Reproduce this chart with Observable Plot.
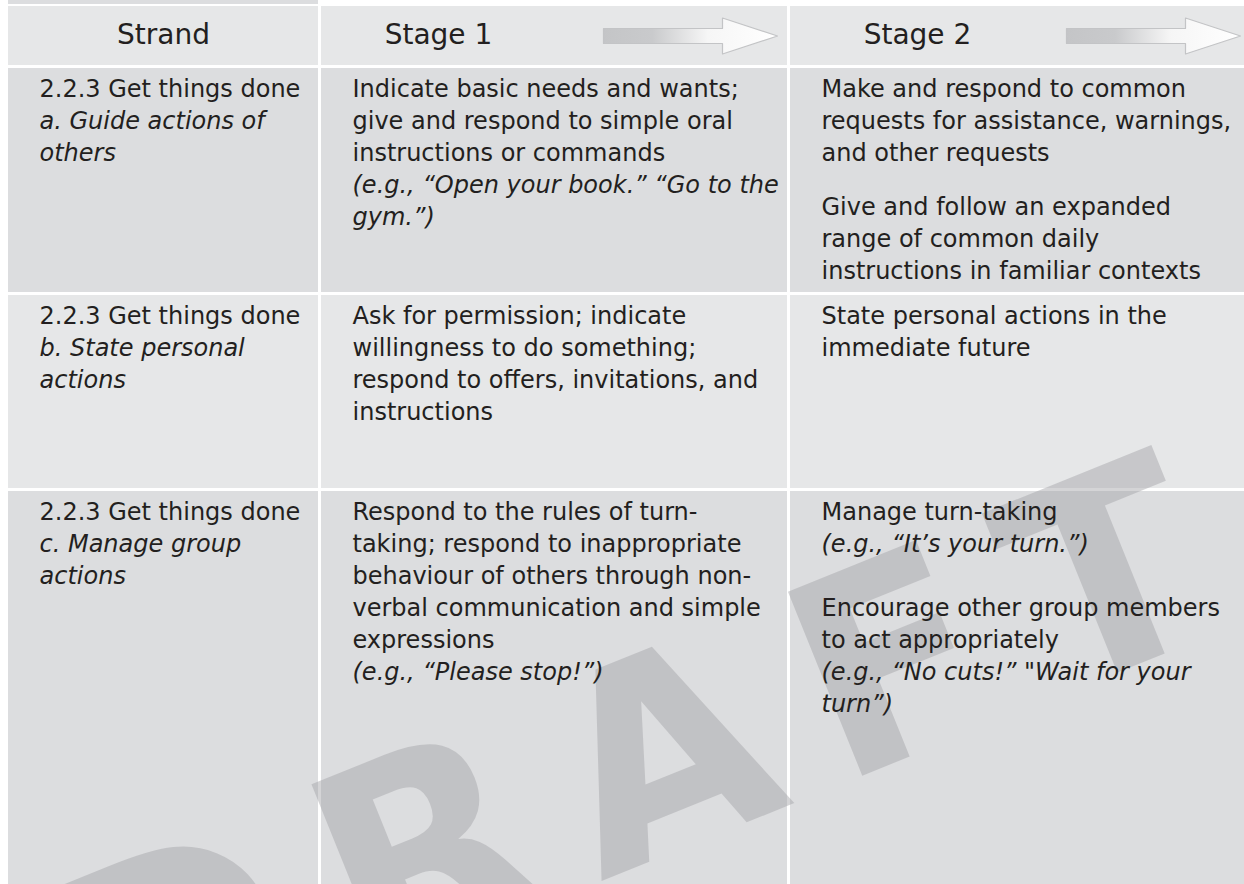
<!DOCTYPE html>
<html><head><meta charset="utf-8">
<script src="https://cdn.jsdelivr.net/npm/d3@7"></script>
<script src="https://cdn.jsdelivr.net/npm/@observablehq/plot@0.6"></script>
<style>
html,body{margin:0;padding:0;background:#fff;overflow:hidden;}
#chart svg{display:block;}
</style></head>
<body><div id="chart"></div>
<script>
// ---------------- data (table content) ----------------
const columns = ["Strand", "Stage 1", "Stage 2"];
// "_" prefix = italic line, "" = paragraph space, " " = empty line
const strandCells = [
  ["2.2.3 Get things done", "_a. Guide actions of", "_others"],
  ["2.2.3 Get things done", "_b. State personal", "_actions"],
  ["2.2.3 Get things done", "_c. Manage group", "_actions"]
];
const stage1Cells = [
  ["Indicate basic needs and wants;", "give and respond to simple oral", "instructions or commands", "_(e.g., “Open your book.” “Go to the", "_gym.”)"],
  ["Ask for permission; indicate", "willingness to do something;", "respond to offers, invitations, and", "instructions"],
  ["Respond to the rules of turn-", "taking; respond to inappropriate", "behaviour of others through non-", "verbal communication and simple", "expressions", "_(e.g., “Please stop!”)"]
];
const stage2Cells = [
  ["Make and respond to common", "requests for assistance, warnings,", "and other requests", "", "Give and follow an expanded", "range of common daily", "instructions in familiar contexts"],
  ["State personal actions in the", "immediate future"],
  ["Manage turn-taking", "_(e.g., “It’s your turn.”)", " ", "Encourage other group members", "to act appropriately", "_(e.g., “No cuts!” \"Wait for your", "_turn”)"]
];
const watermarkText = "DRAFT";

// ---------------- layout / style ----------------
const W = 1244, H = 884;
const L = {
  cols: [[8, 318], [321, 787], [790, 1244]],
  header: [6, 65],
  rows: [[68, 292], [295, 488], [491, 884]],
  strip: {x: [8, 318], y: [0, 4]},
  padX: 31, padTop: 11, lineH: 32, gap: 0.7,
  bodySize: 24, headSize: 28,
  headTextOffset: [null, 117, 127],
  arrow: {len: 174, endPad: [null, 10, 4], shaft: 15, head: 36, headL: 55},
  wm: {x: 657, y: 764, angle: 22, size: 272, spacing: 47}
};
const headFill = "#e6e7e8", darkFill = "#dcdddf", lightFill = "#e6e7e8";
const textColor = "#231f20";

// ---------------- build mark data ----------------
const cells = [];
cells.push({x1: L.strip.x[0], x2: L.strip.x[1], y1: L.strip.y[0], y2: L.strip.y[1], fill: darkFill});
L.cols.forEach(([a, b]) => cells.push({x1: a, x2: b, y1: L.header[0], y2: L.header[1], fill: headFill}));
L.rows.forEach(([t, bt], r) => L.cols.forEach(([a, b]) =>
  cells.push({x1: a, x2: b, y1: t, y2: bt, fill: r % 2 === 0 ? darkFill : lightFill})));

const bodyLines = [];
const tables = [strandCells, stage1Cells, stage2Cells];
tables.forEach((col, c) => col.forEach((lines, r) => {
  let pos = 0;
  for (const ln of lines) {
    if (ln === "") { pos += L.gap; continue; }
    if (ln === " ") { pos += 1; continue; }
    const italic = ln.startsWith("_");
    bodyLines.push({
      x: L.cols[c][0] + L.padX,
      y: L.rows[r][0] + L.padTop + pos * L.lineH,
      text: italic ? ln.slice(1) : ln,
      italic
    });
    pos += 1;
  }
}));

const hy = (L.header[0] + L.header[1]) / 2;
const headLabels = columns.map((t, c) => ({
  text: t,
  x: c === 0 ? (L.cols[0][0] + L.cols[0][1]) / 2 : L.cols[c][0] + L.headTextOffset[c],
  y: hy - 1,
  anchor: c === 0 ? "middle" : "start"
}));

const arrowPts = [];
[1, 2].forEach(c => {
  const A = L.arrow, xe = L.cols[c][1] - A.endPad[c], xs = xe - A.len, xh = xe - A.headL;
  const pts = [[xs, hy - A.shaft / 2], [xh, hy - A.shaft / 2], [xh, hy - A.head / 2], [xe, hy],
               [xh, hy + A.head / 2], [xh, hy + A.shaft / 2], [xs, hy + A.shaft / 2]];
  pts.forEach(([x, y]) => arrowPts.push({id: c, x, y}));
});

const wm = [{text: watermarkText, x: L.wm.x, y: L.wm.y}];

// ---------------- plot ----------------
const svg = Plot.plot({
  width: W, height: H, margin: 0,
  x: {domain: [0, W], range: [0, W], axis: null},
  y: {domain: [0, H], range: [0, H], axis: null},
  color: {type: "identity"},
  style: {background: "#ffffff", fontFamily: "'DejaVu Sans', Verdana, sans-serif", overflow: "hidden"},
  marks: [
    Plot.rect(cells, {x1: "x1", x2: "x2", y1: "y1", y2: "y2", fill: "fill"}),
    Plot.line(arrowPts, {x: "x", y: "y", z: "id", curve: "linear-closed",
      fill: "url(#arrowGrad)", stroke: "#c3c4c6", strokeWidth: 1.2}),
    Plot.text(headLabels, {x: "x", y: "y", text: "text", textAnchor: d => d.anchor,
      fontSize: L.headSize, fill: textColor, lineAnchor: "middle"}),
    Plot.text(wm, {x: "x", y: "y", text: "text", rotate: -L.wm.angle, textAnchor: "middle",
      fontSize: L.wm.size, fontWeight: "bold", fill: "#a3a4a7", fillOpacity: 0.47, lineAnchor: "middle"}),
    Plot.text(bodyLines.filter(d => !d.italic), {x: "x", y: "y", text: "text", textAnchor: "start",
      lineAnchor: "top", fontSize: L.bodySize, fill: textColor}),
    Plot.text(bodyLines.filter(d => d.italic), {x: "x", y: "y", text: "text", textAnchor: "start",
      lineAnchor: "top", fontSize: L.bodySize, fontStyle: "italic", fill: textColor})
  ]
});

// watermark letter spacing
d3.select(svg).selectAll("text").filter(function () { return this.textContent === watermarkText; })
  .attr("letter-spacing", L.wm.spacing);

// gradient for the header arrows
const defs = d3.select(svg).insert("defs", ":first-child");
const g = defs.append("linearGradient").attr("id", "arrowGrad").attr("x1", 0).attr("x2", 1).attr("y1", 0).attr("y2", 0);
[[0, "#c4c5c7"], [0.28, "#c9cacc"], [0.6, "#f6f6f6"], [1, "#ffffff"]].forEach(([o, c]) =>
  g.append("stop").attr("offset", o).attr("stop-color", c));

document.getElementById("chart").append(svg);
</script>
</body></html>
